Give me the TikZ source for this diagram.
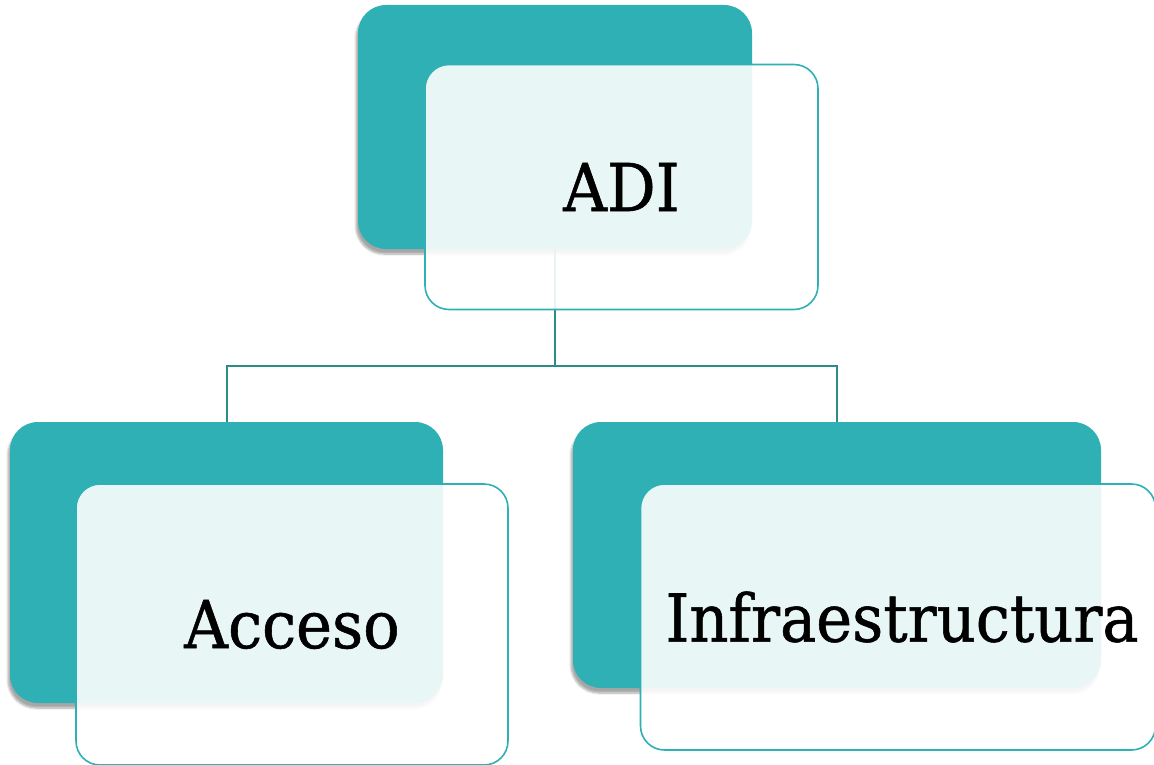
\documentclass[tikz,border=0pt]{standalone}
\usepackage{fontspec}
\setmainfont{DejaVu Serif}[FakeStretch=0.92,FakeBold=0.8]
\usetikzlibrary{shadows.blur}
\definecolor{tealA}{HTML}{2EB0B5}
\definecolor{lineC}{HTML}{2A8C87}
\tikzset{
  backbox/.style={rectangle, rounded corners=28pt, fill=tealA, draw=none,
    blur shadow={shadow xshift=-2pt, shadow yshift=-5pt, shadow blur steps=6, shadow opacity=35}},
  frontbox/.style={rectangle, rounded corners=24pt, fill=white, fill opacity=0.89,
    draw=tealA, line width=1.6pt, text opacity=1, font=\fontsize{66}{72}\selectfont},
  conn/.style={draw=lineC, line width=2pt}
}
\begin{document}
\begin{tikzpicture}[x=1pt,y=-1pt]
\useasboundingbox (0,0) rectangle (1154,765);
% back boxes
\node[backbox, minimum width=394pt, minimum height=244pt] (adiB) at (555,127) {};
\node[backbox, minimum width=433pt, minimum height=281pt] (accB) at (226.5,562.5) {};
\node[backbox, minimum width=528pt, minimum height=266pt] (infB) at (837,555) {};
% connectors
\coordinate (jn) at (555,366);
\draw[conn] (adiB.south) -- (jn);
\draw[conn] (accB.north) |- (jn) -| (infB.north);
% front boxes
\node[frontbox, minimum width=393pt, minimum height=245pt] (adiF) at (621.5,187) {ADI};
\node[frontbox, minimum width=432pt, minimum height=281pt] (accF) at (292,624.5) {Acceso};
\node[frontbox, minimum width=515pt, minimum height=266pt] (infF) at (898,617) {\hspace*{8pt}Infraestructura};
\end{tikzpicture}
\end{document}
